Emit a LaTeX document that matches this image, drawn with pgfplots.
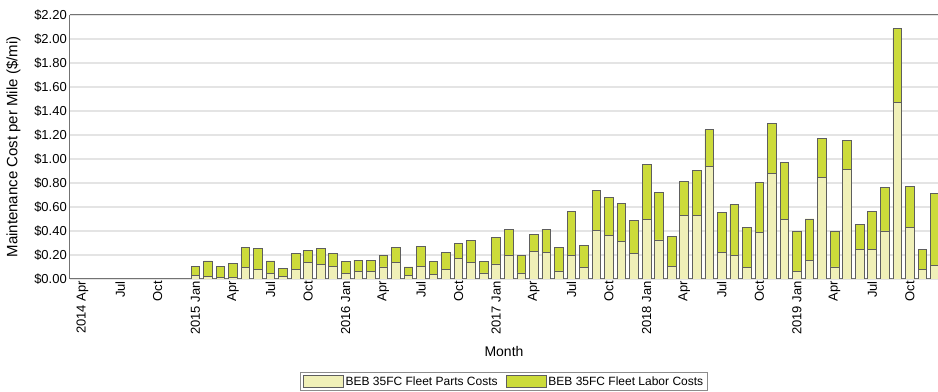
\documentclass[border=0pt]{standalone}
\usepackage{pgfplots}
\pgfplotsset{compat=1.18}
\usepackage{pgfplotstable}
\usepackage{fontspec}
\setmainfont{Liberation Sans}
\definecolor{parts}{HTML}{F0F0B8}
\definecolor{labor}{HTML}{CCDB3A}
\definecolor{edge}{HTML}{5E5E5E}
\definecolor{gridc}{HTML}{E4E4E4}
\pgfplotstableread{
x parts labor
9 0.033 0.075
10 0.020 0.130
11 0.010 0.095
12 0.015 0.115
13 0.097 0.167
14 0.083 0.173
15 0.044 0.106
16 0.020 0.066
17 0.080 0.136
18 0.136 0.103
19 0.122 0.134
20 0.106 0.105
21 0.045 0.099
22 0.060 0.098
23 0.060 0.095
24 0.100 0.097
25 0.138 0.128
26 0.027 0.073
27 0.107 0.163
28 0.040 0.104
29 0.077 0.147
30 0.169 0.127
31 0.141 0.183
32 0.050 0.096
33 0.125 0.219
34 0.197 0.219
35 0.050 0.144
36 0.230 0.141
37 0.219 0.197
38 0.067 0.196
39 0.197 0.366
40 0.094 0.183
41 0.408 0.333
42 0.366 0.314
43 0.310 0.318
44 0.210 0.281
45 0.496 0.458
46 0.325 0.397
47 0.105 0.253
48 0.533 0.277
49 0.530 0.377
50 0.935 0.308
51 0.219 0.339
52 0.197 0.422
53 0.097 0.330
54 0.388 0.417
55 0.879 0.420
56 0.496 0.472
57 0.061 0.335
58 0.152 0.348
59 0.849 0.322
60 0.100 0.294
61 0.910 0.242
62 0.244 0.214
63 0.244 0.319
64 0.400 0.363
65 1.474 0.613
66 0.427 0.342
67 0.083 0.163
68 0.113 0.600
}\datatable
\begin{document}
\begin{tikzpicture}
\begin{axis}[
  scale only axis,
  width=868pt, height=264pt,
  xmin=-1, xmax=68.25,
  ymin=0, ymax=2.2,
  ybar stacked,
  bar width=0.69,
  axis x line*=box,
  axis y line*=left,
  axis line style={-, draw=black!55, line width=1pt},
  major tick length=0pt,
  ytick={0,0.2,0.4,0.6,0.8,1.0,1.2,1.4,1.6,1.8,2.0,2.2},
  yticklabels={\$0.00,\$0.20,\$0.40,\$0.60,\$0.80,\$1.00,\$1.20,\$1.40,\$1.60,\$1.80,\$2.00,\$2.20},
  xtick={0,3,...,66},
  xticklabels={2014 Apr,Jul,Oct,2015 Jan,Apr,Jul,Oct,2016 Jan,Apr,Jul,Oct,2017 Jan,Apr,Jul,Oct,2018 Jan,Apr,Jul,Oct,2019 Jan,Apr,Jul,Oct},
  x tick label style={rotate=90, anchor=east, font=\fontsize{13}{15}\selectfont, inner sep=2pt},
  y tick label style={font=\fontsize{13}{15}\selectfont, inner sep=3pt},
  ymajorgrids,
  grid style={gridc, line width=1.2pt},
  ylabel={Maintenance Cost per Mile (\$/mi)},
  ylabel style={font=\fontsize{15}{17}\selectfont, at={(axis description cs:0,0.5)}, anchor=south, yshift=46pt},
  xlabel={Month},
  xlabel style={font=\fontsize{14}{16}\selectfont, at={(axis description cs:0.5,0)}, anchor=north, yshift=-64pt},
  legend columns=2,
  legend style={at={(axis description cs:0.5,-0.352)}, anchor=north, draw=black!45, line width=0.8pt,
    font=\fontsize{12}{14}\selectfont, inner sep=2pt,
    /tikz/every even column/.append style={column sep=6pt}},
  legend image code/.code={\draw[#1, line width=0.8pt] (0pt,-6pt) rectangle (40pt,6pt);},
]
\addplot[fill=parts, draw=edge, line width=0.8pt] table[x=x, y=parts] {\datatable};
\addplot[fill=labor, draw=edge, line width=0.8pt] table[x=x, y=labor] {\datatable};
\legend{BEB 35FC Fleet Parts Costs, BEB 35FC Fleet Labor Costs}
\coordinate (bl) at (rel axis cs:0,0);
\coordinate (tr) at (rel axis cs:1,1);
\end{axis}
\pgfresetboundingbox
\path ([xshift=-70pt,yshift=-113pt]bl) rectangle ([yshift=15pt]tr);
\end{tikzpicture}
\end{document}
